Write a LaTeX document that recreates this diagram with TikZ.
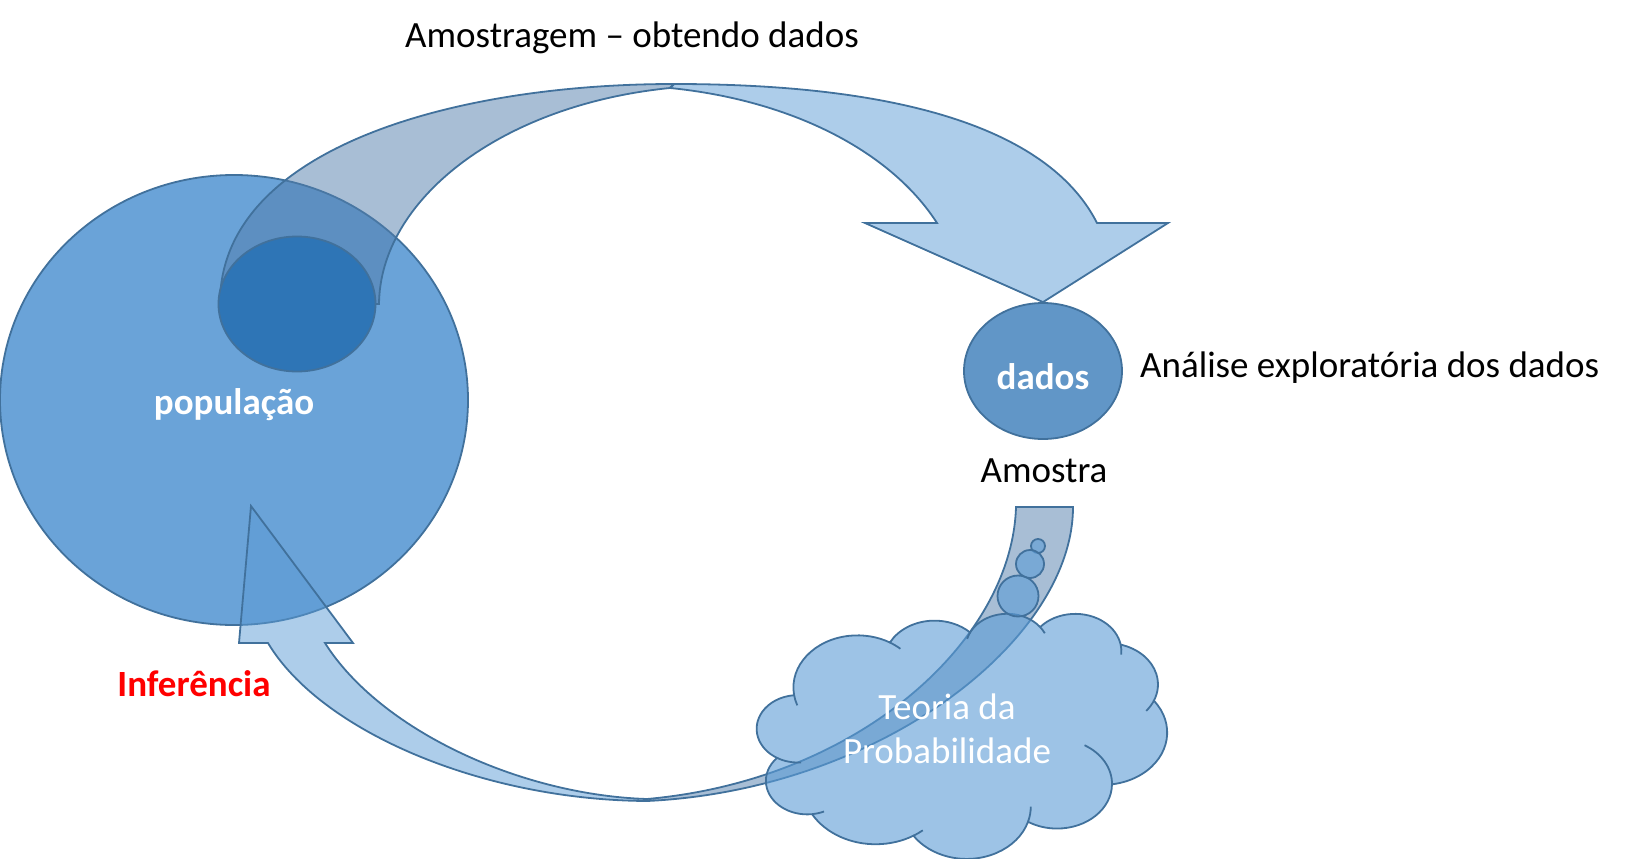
\documentclass[tikz,border=0pt]{standalone}
\usepackage{fontspec}
\setmainfont{Carlito}
\usetikzlibrary{shapes.geometric}

\definecolor{rimblue}{RGB}{65,113,156}
\definecolor{popblue}{RGB}{106,163,216}
\definecolor{sampblue}{RGB}{46,117,182}
\definecolor{datablue}{RGB}{97,150,199}
\definecolor{faceblue}{RGB}{91,155,213}
\definecolor{backblue}{RGB}{81,125,171}

\begin{document}
\begin{tikzpicture}[x=1pt,y=-1pt,
    outl/.style={draw=rimblue,line width=1.8pt},
    blob/.style={ellipse,outl,inner sep=0pt},
    front/.style={outl,fill=faceblue,fill opacity=0.5},
    back/.style={outl,fill=backblue,fill opacity=0.5},
    puff/.style={outl,fill=faceblue,fill opacity=0.6},
    lbl/.style={font=\fontsize{37}{44}\selectfont,inner sep=0pt},
    boldlbl/.style={font=\fontsize{37}{44}\selectfont\bfseries,text=white}]
  \useasboundingbox (0,0) rectangle (1628,859);

  % populacao e amostra
  \node[blob,fill=popblue,minimum width=468pt,minimum height=450pt,boldlbl,
    text height=29pt,text depth=0pt] (pop) at (234,400) {população};
  \draw[back] (220,303) .. controls (220,150) and (450,84) .. (674,84) -- (670,88)
    .. controls (500,105) and (380,200) .. (379,304) -- cycle;
  \node[blob,fill=sampblue,minimum width=157pt,minimum height=135pt] (samp) at (297,304) {};
  \node[blob,fill=datablue,minimum width=158pt,minimum height=136pt,boldlbl,
    text height=36pt,text depth=0pt] (dados) at (1043,371) {dados};
  \draw[front] (670,88) -- (674,84) .. controls (950,84) and (1060,150) .. (1097,223)
    -- (1168,223) -- (dados.north) -- (865,223) -- (937,223)
    .. controls (890,150) and (790,100) .. (670,88) -- cycle;

  % inferencia
  \draw[back] (1016,507) -- (1073,507) .. controls (1073,640) and (880,790) .. (647,801)
    -- (647,799) .. controls (860,780) and (1012,640) .. (1016,507) -- cycle;
  \draw[puff] (794.0,694.5)
    arc[start angle=-187.75,end angle=-59.64,x radius=64.09,y radius=52.12]
    arc[start angle=-152.02,end angle=-45.43,x radius=50.61,y radius=41.21]
    arc[start angle=-153.50,end angle=-37.32,x radius=41.43,y radius=33.72]
    arc[start angle=-139.71,end angle=-10.21,x radius=46.10,y radius=37.40]
    arc[start angle=-74.77,end angle=23.21,x radius=50.61,y radius=41.25]
    arc[start angle=-37.52,end angle=81.86,x radius=64.30,y radius=52.29]
    arc[start angle=0.46,end angle=121.97,x radius=54.90,y radius=44.62]
    arc[start angle=16.84,end angle=146.24,x radius=64.08,y radius=52.26]
    arc[start angle=58.98,end angle=150.21,x radius=73.27,y radius=59.79]
    arc[start angle=83.31,end angle=223.11,x radius=41.38,y radius=33.56]
    arc[start angle=120.35,end angle=264.11,x radius=41.24,y radius=33.72]
    -- cycle;
  \foreach \cx/\cy/\rx/\ry/\a/\b in {857.5/687.5/64.09/52.12/-187.75/-200,
      797.9/728.8/41.24/33.72/85.5/120.35, 807.3/780.8/41.38/33.56/66.2/83.31,
      875.7/784.5/73.27/59.79/50/58.98, 966.7/806.6/64.08/52.26/0/16.84,
      1057.1/783.9/54.90/44.62/-60/0.46, 1107.4/684.4/50.61/41.25/23.21/40,
      1075.3/651.3/46.10/37.40/-10.21/5, 1007.2/647.5/41.43/33.72/-37.32/-25,
      1007.2/647.5/41.43/33.72/-165/-153.5, 857.5/687.5/64.09/52.12/-59.64/-48}
    \draw[outl] (\cx,\cy) ++({\rx*cos(\a)},{\ry*sin(\a)}) arc[start angle=\a,end angle=\b,x radius=\rx,y radius=\ry];
  \node[puff,circle,minimum size=14pt,inner sep=0pt] (b1) at (1038,546) {};
  \node[puff,circle,minimum size=28pt,inner sep=0pt] (b2) at (1030,564) {};
  \node[puff,circle,minimum size=41pt,inner sep=0pt] (b3) at (1018,596) {};
  \node[lbl,text=white,align=center] (teoria) at (947,729) {Teoria da\\Probabilidade};
  \draw[front] (647,801) .. controls (480,800) and (320,730) .. (268,643) -- (239,643)
    -- (251,506) -- (353,643) -- (325,643) .. controls (380,730) and (520,795) .. (647,799) -- cycle;

  % textos
  \node[lbl,anchor=base] (tsamp) at (632,48) {Amostragem -- obtendo dados};
  \node[lbl,anchor=base west] (texpl) at (1140,377) {Análise exploratória dos dados};
  \node[lbl,anchor=base] (tamostra) at (1044,482) {Amostra};
  \node[boldlbl,anchor=base,text=red,inner sep=0pt] (tinf) at (194,696) {Inferência};
\end{tikzpicture}
\end{document}
